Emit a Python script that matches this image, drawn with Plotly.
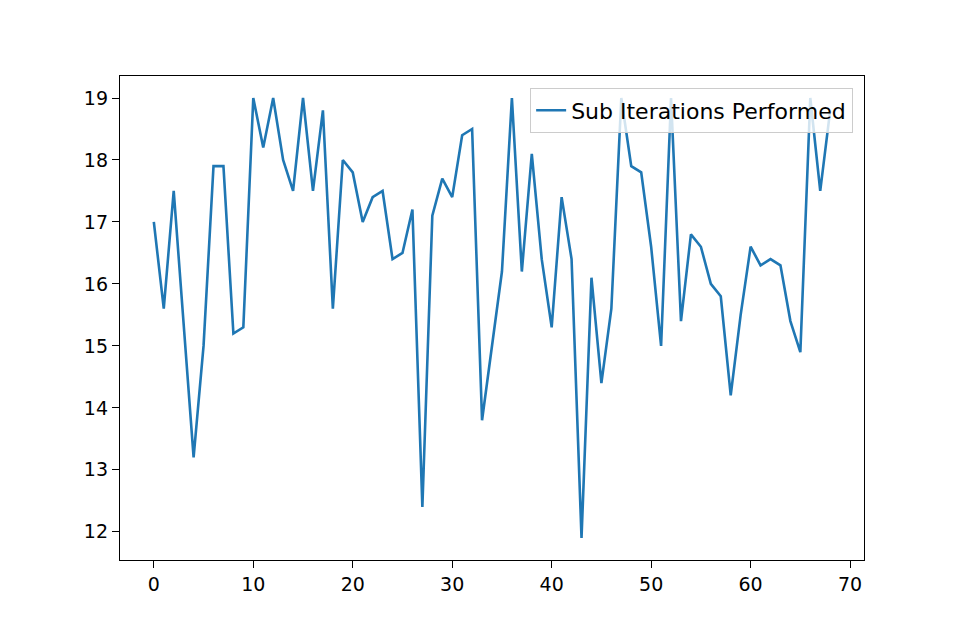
import plotly.graph_objects as go

# Sub iterations performed per step
steps = list(range(69))
sub_iterations = [
    17.0, 15.6, 17.5, 15.4, 13.2, 15.0, 17.9, 17.9, 15.2, 15.3,
    19.0, 18.2, 19.0, 18.0, 17.5, 19.0, 17.5, 18.8, 15.6, 18.0,
    17.8, 17.0, 17.4, 17.5, 16.4, 16.5, 17.2, 12.4, 17.1, 17.7,
    17.4, 18.4, 18.5, 13.8, 15.0, 16.2, 19.0, 16.2, 18.1, 16.4,
    15.3, 17.4, 16.4, 11.9, 16.1, 14.4, 15.6, 19.0, 17.9, 17.8,
    16.6, 15.0, 19.0, 15.4, 16.8, 16.6, 16.0, 15.8, 14.2, 15.5,
    16.6, 16.3, 16.4, 16.3, 15.4, 14.9, 19.0, 17.5, 18.8,
]
x_ticks = [0, 10, 20, 30, 40, 50, 60, 70]
y_ticks = [12, 13, 14, 15, 16, 17, 18, 19]

fig = go.Figure()
fig.add_trace(go.Scatter(
    x=steps, y=sub_iterations,
    mode='lines',
    name='Sub Iterations Performed',
    line=dict(color='#1f77b4', width=2.6),
))

axis_style = dict(
    showgrid=False, zeroline=False,
    showline=True, linecolor='black', linewidth=1.3, mirror=True,
    ticks='outside', ticklen=7, tickwidth=1.2, tickcolor='black',
    tickfont=dict(family='DejaVu Sans', size=19, color='black'),
)

# page body has an 8px margin, so the figure is sized 944x624
fig.update_layout(
    width=944, height=624,
    margin=dict(l=112, r=88, t=68, b=72),
    paper_bgcolor='white', plot_bgcolor='white',
    showlegend=True,
    legend=dict(
        x=0.985, y=0.975, xanchor='right', yanchor='top',
        bgcolor='rgba(255,255,255,0.8)', bordercolor='#cccccc', borderwidth=1.3,
        font=dict(family='DejaVu Sans', size=22, color='black'),
    ),
    xaxis=dict(range=[-3.4, 71.4], tickvals=x_ticks, **axis_style),
    yaxis=dict(range=[11.545, 19.355], tickvals=y_ticks, **axis_style),
)

fig.write_html("out.html")
